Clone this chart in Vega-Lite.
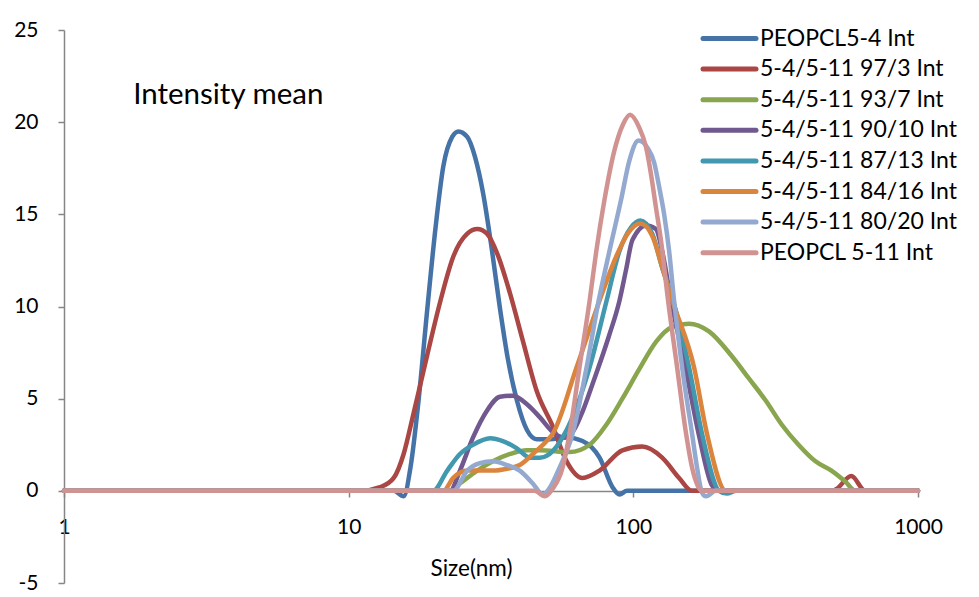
{
  "$schema": "https://vega.github.io/schema/vega-lite/v6.json",
  "width": 854,
  "height": 553,
  "autosize": "none",
  "padding": {"left": 64, "top": 30, "right": 61, "bottom": 14},
  "background": "white",
  "config": {"view": {"stroke": null}, "font": "Lato"},
  "layer": [
    {
      "data": {
        "values": [
          {"series": "PEOPCL5-4 Int", "size": 1, "intensity": 0},
          {"series": "PEOPCL5-4 Int", "size": 10, "intensity": 0},
          {"series": "PEOPCL5-4 Int", "size": 14.4, "intensity": 0},
          {"series": "PEOPCL5-4 Int", "size": 15.6, "intensity": -0.3},
          {"series": "PEOPCL5-4 Int", "size": 16.5, "intensity": 1.3},
          {"series": "PEOPCL5-4 Int", "size": 17.6, "intensity": 4.9},
          {"series": "PEOPCL5-4 Int", "size": 18.9, "intensity": 9.9},
          {"series": "PEOPCL5-4 Int", "size": 20.2, "intensity": 14.3},
          {"series": "PEOPCL5-4 Int", "size": 21.5, "intensity": 17.6},
          {"series": "PEOPCL5-4 Int", "size": 23.1, "intensity": 19.2},
          {"series": "PEOPCL5-4 Int", "size": 24.3, "intensity": 19.5},
          {"series": "PEOPCL5-4 Int", "size": 26.1, "intensity": 19.2},
          {"series": "PEOPCL5-4 Int", "size": 27.8, "intensity": 18.1},
          {"series": "PEOPCL5-4 Int", "size": 29.7, "intensity": 16.1},
          {"series": "PEOPCL5-4 Int", "size": 31.9, "intensity": 13.0},
          {"series": "PEOPCL5-4 Int", "size": 34.0, "intensity": 9.9},
          {"series": "PEOPCL5-4 Int", "size": 36.3, "intensity": 7.1},
          {"series": "PEOPCL5-4 Int", "size": 39.0, "intensity": 4.9},
          {"series": "PEOPCL5-4 Int", "size": 42.3, "intensity": 3.3},
          {"series": "PEOPCL5-4 Int", "size": 45.8, "intensity": 2.8},
          {"series": "PEOPCL5-4 Int", "size": 50.8, "intensity": 2.8},
          {"series": "PEOPCL5-4 Int", "size": 58.3, "intensity": 2.9},
          {"series": "PEOPCL5-4 Int", "size": 66.3, "intensity": 2.7},
          {"series": "PEOPCL5-4 Int", "size": 76.1, "intensity": 1.8},
          {"series": "PEOPCL5-4 Int", "size": 84.5, "intensity": 0.2},
          {"series": "PEOPCL5-4 Int", "size": 89.4, "intensity": -0.2},
          {"series": "PEOPCL5-4 Int", "size": 95, "intensity": 0},
          {"series": "PEOPCL5-4 Int", "size": 1000, "intensity": 0},

          {"series": "5-4/5-11 97/3 Int", "size": 1, "intensity": 0},
          {"series": "5-4/5-11 97/3 Int", "size": 11, "intensity": 0},
          {"series": "5-4/5-11 97/3 Int", "size": 12.9, "intensity": 0.2},
          {"series": "5-4/5-11 97/3 Int", "size": 14.4, "intensity": 0.7},
          {"series": "5-4/5-11 97/3 Int", "size": 15.6, "intensity": 2.0},
          {"series": "5-4/5-11 97/3 Int", "size": 16.9, "intensity": 4.2},
          {"series": "5-4/5-11 97/3 Int", "size": 18.9, "intensity": 7.4},
          {"series": "5-4/5-11 97/3 Int", "size": 21.0, "intensity": 10.3},
          {"series": "5-4/5-11 97/3 Int", "size": 23.3, "intensity": 12.7},
          {"series": "5-4/5-11 97/3 Int", "size": 26.1, "intensity": 13.95},
          {"series": "5-4/5-11 97/3 Int", "size": 28.3, "intensity": 14.2},
          {"series": "5-4/5-11 97/3 Int", "size": 30.6, "intensity": 13.95},
          {"series": "5-4/5-11 97/3 Int", "size": 33.2, "intensity": 12.9},
          {"series": "5-4/5-11 97/3 Int", "size": 36.9, "intensity": 10.7},
          {"series": "5-4/5-11 97/3 Int", "size": 40.9, "intensity": 8.15},
          {"series": "5-4/5-11 97/3 Int", "size": 45.8, "intensity": 5.4},
          {"series": "5-4/5-11 97/3 Int", "size": 52.1, "intensity": 3.5},
          {"series": "5-4/5-11 97/3 Int", "size": 58.3, "intensity": 1.6},
          {"series": "5-4/5-11 97/3 Int", "size": 66.3, "intensity": 0.7},
          {"series": "5-4/5-11 97/3 Int", "size": 76.1, "intensity": 1.1},
          {"series": "5-4/5-11 97/3 Int", "size": 91.5, "intensity": 2.2},
          {"series": "5-4/5-11 97/3 Int", "size": 107.5, "intensity": 2.4},
          {"series": "5-4/5-11 97/3 Int", "size": 126.3, "intensity": 1.8},
          {"series": "5-4/5-11 97/3 Int", "size": 144.8, "intensity": 0.7},
          {"series": "5-4/5-11 97/3 Int", "size": 160.8, "intensity": 0},
          {"series": "5-4/5-11 97/3 Int", "size": 500, "intensity": 0},
          {"series": "5-4/5-11 97/3 Int", "size": 516.6, "intensity": 0.1},
          {"series": "5-4/5-11 97/3 Int", "size": 583, "intensity": 0.8},
          {"series": "5-4/5-11 97/3 Int", "size": 653, "intensity": 0},
          {"series": "5-4/5-11 97/3 Int", "size": 1000, "intensity": 0},

          {"series": "5-4/5-11 93/7 Int", "size": 1, "intensity": 0},
          {"series": "5-4/5-11 93/7 Int", "size": 22.7, "intensity": 0},
          {"series": "5-4/5-11 93/7 Int", "size": 24.6, "intensity": 0.4},
          {"series": "5-4/5-11 93/7 Int", "size": 28.3, "intensity": 1.1},
          {"series": "5-4/5-11 93/7 Int", "size": 32.1, "intensity": 1.6},
          {"series": "5-4/5-11 93/7 Int", "size": 36.9, "intensity": 2.0},
          {"series": "5-4/5-11 93/7 Int", "size": 42.3, "intensity": 2.2},
          {"series": "5-4/5-11 93/7 Int", "size": 46.9, "intensity": 2.2},
          {"series": "5-4/5-11 93/7 Int", "size": 59.7, "intensity": 2.1},
          {"series": "5-4/5-11 93/7 Int", "size": 70.2, "intensity": 2.5},
          {"series": "5-4/5-11 93/7 Int", "size": 80.5, "intensity": 3.6},
          {"series": "5-4/5-11 93/7 Int", "size": 91.5, "intensity": 5.0},
          {"series": "5-4/5-11 93/7 Int", "size": 104.9, "intensity": 6.6},
          {"series": "5-4/5-11 93/7 Int", "size": 120.3, "intensity": 8.1},
          {"series": "5-4/5-11 93/7 Int", "size": 136.9, "intensity": 8.9},
          {"series": "5-4/5-11 93/7 Int", "size": 156.9, "intensity": 9.07},
          {"series": "5-4/5-11 93/7 Int", "size": 184.4, "intensity": 8.65},
          {"series": "5-4/5-11 93/7 Int", "size": 222, "intensity": 7.3},
          {"series": "5-4/5-11 93/7 Int", "size": 254.6, "intensity": 6.1},
          {"series": "5-4/5-11 93/7 Int", "size": 291.7, "intensity": 4.9},
          {"series": "5-4/5-11 93/7 Int", "size": 331.9, "intensity": 3.6},
          {"series": "5-4/5-11 93/7 Int", "size": 380.4, "intensity": 2.5},
          {"series": "5-4/5-11 93/7 Int", "size": 436.3, "intensity": 1.6},
          {"series": "5-4/5-11 93/7 Int", "size": 496.4, "intensity": 1.1},
          {"series": "5-4/5-11 93/7 Int", "size": 555.6, "intensity": 0.5},
          {"series": "5-4/5-11 93/7 Int", "size": 602.4, "intensity": 0},
          {"series": "5-4/5-11 93/7 Int", "size": 1000, "intensity": 0},

          {"series": "5-4/5-11 90/10 Int", "size": 1, "intensity": 0},
          {"series": "5-4/5-11 90/10 Int", "size": 22.7, "intensity": 0},
          {"series": "5-4/5-11 90/10 Int", "size": 24.6, "intensity": 1.1},
          {"series": "5-4/5-11 90/10 Int", "size": 27.35, "intensity": 2.9},
          {"series": "5-4/5-11 90/10 Int", "size": 30.6, "intensity": 4.35},
          {"series": "5-4/5-11 90/10 Int", "size": 34.0, "intensity": 5.1},
          {"series": "5-4/5-11 90/10 Int", "size": 37.75, "intensity": 5.16},
          {"series": "5-4/5-11 90/10 Int", "size": 42.3, "intensity": 4.7},
          {"series": "5-4/5-11 90/10 Int", "size": 46.9, "intensity": 4.0},
          {"series": "5-4/5-11 90/10 Int", "size": 52.1, "intensity": 3.2},
          {"series": "5-4/5-11 90/10 Int", "size": 56.5, "intensity": 2.9},
          {"series": "5-4/5-11 90/10 Int", "size": 61.2, "intensity": 3.2},
          {"series": "5-4/5-11 90/10 Int", "size": 66.3, "intensity": 4.3},
          {"series": "5-4/5-11 90/10 Int", "size": 71.9, "intensity": 5.8},
          {"series": "5-4/5-11 90/10 Int", "size": 82.1, "intensity": 8.4},
          {"series": "5-4/5-11 90/10 Int", "size": 89.35, "intensity": 10.3},
          {"series": "5-4/5-11 90/10 Int", "size": 94.3, "intensity": 12.0},
          {"series": "5-4/5-11 90/10 Int", "size": 99.2, "intensity": 13.6},
          {"series": "5-4/5-11 90/10 Int", "size": 111.1, "intensity": 14.4},
          {"series": "5-4/5-11 90/10 Int", "size": 120, "intensity": 14.2},
          {"series": "5-4/5-11 90/10 Int", "size": 126.3, "intensity": 13.0},
          {"series": "5-4/5-11 90/10 Int", "size": 135.8, "intensity": 10.3},
          {"series": "5-4/5-11 90/10 Int", "size": 153.2, "intensity": 6.5},
          {"series": "5-4/5-11 90/10 Int", "size": 170.1, "intensity": 3.0},
          {"series": "5-4/5-11 90/10 Int", "size": 188.8, "intensity": 0.3},
          {"series": "5-4/5-11 90/10 Int", "size": 199.9, "intensity": 0},
          {"series": "5-4/5-11 90/10 Int", "size": 1000, "intensity": 0},

          {"series": "5-4/5-11 87/13 Int", "size": 1, "intensity": 0},
          {"series": "5-4/5-11 87/13 Int", "size": 19.8, "intensity": 0},
          {"series": "5-4/5-11 87/13 Int", "size": 22.2, "intensity": 1.1},
          {"series": "5-4/5-11 87/13 Int", "size": 24.6, "intensity": 2.0},
          {"series": "5-4/5-11 87/13 Int", "size": 27.35, "intensity": 2.5},
          {"series": "5-4/5-11 87/13 Int", "size": 31.4, "intensity": 2.85},
          {"series": "5-4/5-11 87/13 Int", "size": 34.8, "intensity": 2.7},
          {"series": "5-4/5-11 87/13 Int", "size": 39.0, "intensity": 2.3},
          {"series": "5-4/5-11 87/13 Int", "size": 43.3, "intensity": 1.8},
          {"series": "5-4/5-11 87/13 Int", "size": 46.9, "intensity": 1.8},
          {"series": "5-4/5-11 87/13 Int", "size": 50.8, "intensity": 2.0},
          {"series": "5-4/5-11 87/13 Int", "size": 57.4, "intensity": 3.1},
          {"series": "5-4/5-11 87/13 Int", "size": 70.2, "intensity": 6.7},
          {"series": "5-4/5-11 87/13 Int", "size": 80.5, "intensity": 10.3},
          {"series": "5-4/5-11 87/13 Int", "size": 89.35, "intensity": 13.0},
          {"series": "5-4/5-11 87/13 Int", "size": 98.2, "intensity": 14.3},
          {"series": "5-4/5-11 87/13 Int", "size": 105.8, "intensity": 14.67},
          {"series": "5-4/5-11 87/13 Int", "size": 116.5, "intensity": 13.95},
          {"series": "5-4/5-11 87/13 Int", "size": 126.3, "intensity": 12.1},
          {"series": "5-4/5-11 87/13 Int", "size": 138, "intensity": 10.3},
          {"series": "5-4/5-11 87/13 Int", "size": 156.9, "intensity": 6.7},
          {"series": "5-4/5-11 87/13 Int", "size": 174.3, "intensity": 3.1},
          {"series": "5-4/5-11 87/13 Int", "size": 199.9, "intensity": 0},
          {"series": "5-4/5-11 87/13 Int", "size": 213, "intensity": -0.15},
          {"series": "5-4/5-11 87/13 Int", "size": 230, "intensity": 0},
          {"series": "5-4/5-11 87/13 Int", "size": 1000, "intensity": 0},

          {"series": "5-4/5-11 84/16 Int", "size": 1, "intensity": 0},
          {"series": "5-4/5-11 84/16 Int", "size": 21.5, "intensity": 0},
          {"series": "5-4/5-11 84/16 Int", "size": 23.3, "intensity": 0.7},
          {"series": "5-4/5-11 84/16 Int", "size": 26.1, "intensity": 1.1},
          {"series": "5-4/5-11 84/16 Int", "size": 28.9, "intensity": 1.1},
          {"series": "5-4/5-11 84/16 Int", "size": 32.1, "intensity": 1.1},
          {"series": "5-4/5-11 84/16 Int", "size": 36.0, "intensity": 1.2},
          {"series": "5-4/5-11 84/16 Int", "size": 39.9, "intensity": 1.4},
          {"series": "5-4/5-11 84/16 Int", "size": 44.35, "intensity": 2.0},
          {"series": "5-4/5-11 84/16 Int", "size": 49.6, "intensity": 2.7},
          {"series": "5-4/5-11 84/16 Int", "size": 52.1, "intensity": 3.1},
          {"series": "5-4/5-11 84/16 Int", "size": 63.2, "intensity": 6.7},
          {"series": "5-4/5-11 84/16 Int", "size": 76, "intensity": 10.3},
          {"series": "5-4/5-11 84/16 Int", "size": 87.0, "intensity": 12.7},
          {"series": "5-4/5-11 84/16 Int", "size": 95.5, "intensity": 13.95},
          {"series": "5-4/5-11 84/16 Int", "size": 105.8, "intensity": 14.5},
          {"series": "5-4/5-11 84/16 Int", "size": 116.8, "intensity": 13.8},
          {"series": "5-4/5-11 84/16 Int", "size": 126.5, "intensity": 12.1},
          {"series": "5-4/5-11 84/16 Int", "size": 137.2, "intensity": 10.3},
          {"series": "5-4/5-11 84/16 Int", "size": 163.4, "intensity": 6.7},
          {"series": "5-4/5-11 84/16 Int", "size": 181.4, "intensity": 3.1},
          {"series": "5-4/5-11 84/16 Int", "size": 211.5, "intensity": 0},
          {"series": "5-4/5-11 84/16 Int", "size": 1000, "intensity": 0},

          {"series": "5-4/5-11 80/20 Int", "size": 1, "intensity": 0},
          {"series": "5-4/5-11 80/20 Int", "size": 23.3, "intensity": 0},
          {"series": "5-4/5-11 80/20 Int", "size": 26.1, "intensity": 1.1},
          {"series": "5-4/5-11 80/20 Int", "size": 28.9, "intensity": 1.5},
          {"series": "5-4/5-11 80/20 Int", "size": 32.1, "intensity": 1.6},
          {"series": "5-4/5-11 80/20 Int", "size": 36.0, "intensity": 1.4},
          {"series": "5-4/5-11 80/20 Int", "size": 39.9, "intensity": 1.1},
          {"series": "5-4/5-11 80/20 Int", "size": 44.35, "intensity": 0.4},
          {"series": "5-4/5-11 80/20 Int", "size": 48.1, "intensity": -0.2},
          {"series": "5-4/5-11 80/20 Int", "size": 51, "intensity": 0.2},
          {"series": "5-4/5-11 80/20 Int", "size": 55.1, "intensity": 1.27},
          {"series": "5-4/5-11 80/20 Int", "size": 61.2, "intensity": 3.1},
          {"series": "5-4/5-11 80/20 Int", "size": 68.5, "intensity": 6.7},
          {"series": "5-4/5-11 80/20 Int", "size": 75.5, "intensity": 10.3},
          {"series": "5-4/5-11 80/20 Int", "size": 82.4, "intensity": 13.0},
          {"series": "5-4/5-11 80/20 Int", "size": 90.6, "intensity": 15.8},
          {"series": "5-4/5-11 80/20 Int", "size": 96.8, "intensity": 17.9},
          {"series": "5-4/5-11 80/20 Int", "size": 104.3, "intensity": 19.0},
          {"series": "5-4/5-11 80/20 Int", "size": 112.2, "intensity": 18.6},
          {"series": "5-4/5-11 80/20 Int", "size": 118.4, "intensity": 17.8},
          {"series": "5-4/5-11 80/20 Int", "size": 123.2, "intensity": 16.5},
          {"series": "5-4/5-11 80/20 Int", "size": 128.3, "intensity": 15.0},
          {"series": "5-4/5-11 80/20 Int", "size": 133.6, "intensity": 13.0},
          {"series": "5-4/5-11 80/20 Int", "size": 139.1, "intensity": 10.3},
          {"series": "5-4/5-11 80/20 Int", "size": 148.4, "intensity": 6.7},
          {"series": "5-4/5-11 80/20 Int", "size": 160.8, "intensity": 3.1},
          {"series": "5-4/5-11 80/20 Int", "size": 167.4, "intensity": 1.27},
          {"series": "5-4/5-11 80/20 Int", "size": 174.3, "intensity": -0.1},
          {"series": "5-4/5-11 80/20 Int", "size": 180, "intensity": -0.3},
          {"series": "5-4/5-11 80/20 Int", "size": 195, "intensity": 0},
          {"series": "5-4/5-11 80/20 Int", "size": 1000, "intensity": 0},

          {"series": "PEOPCL 5-11 Int", "size": 1, "intensity": 0},
          {"series": "PEOPCL 5-11 Int", "size": 45, "intensity": 0},
          {"series": "PEOPCL 5-11 Int", "size": 48.85, "intensity": -0.3},
          {"series": "PEOPCL 5-11 Int", "size": 52, "intensity": 0.1},
          {"series": "PEOPCL 5-11 Int", "size": 56.45, "intensity": 1.27},
          {"series": "PEOPCL 5-11 Int", "size": 59.7, "intensity": 3.1},
          {"series": "PEOPCL 5-11 Int", "size": 64.7, "intensity": 6.7},
          {"series": "PEOPCL 5-11 Int", "size": 70.2, "intensity": 10.3},
          {"series": "PEOPCL 5-11 Int", "size": 74.1, "intensity": 13.0},
          {"series": "PEOPCL 5-11 Int", "size": 79.2, "intensity": 15.8},
          {"series": "PEOPCL 5-11 Int", "size": 85.9, "intensity": 18.5},
          {"series": "PEOPCL 5-11 Int", "size": 91.8, "intensity": 19.85},
          {"series": "PEOPCL 5-11 Int", "size": 97.4, "intensity": 20.4},
          {"series": "PEOPCL 5-11 Int", "size": 104.9, "intensity": 19.7},
          {"series": "PEOPCL 5-11 Int", "size": 110.8, "intensity": 18.65},
          {"series": "PEOPCL 5-11 Int", "size": 115.3, "intensity": 17.2},
          {"series": "PEOPCL 5-11 Int", "size": 120, "intensity": 15.4},
          {"series": "PEOPCL 5-11 Int", "size": 125, "intensity": 13.6},
          {"series": "PEOPCL 5-11 Int", "size": 132.5, "intensity": 10.3},
          {"series": "PEOPCL 5-11 Int", "size": 142.5, "intensity": 6.7},
          {"series": "PEOPCL 5-11 Int", "size": 153.2, "intensity": 3.1},
          {"series": "PEOPCL 5-11 Int", "size": 160.8, "intensity": 1.27},
          {"series": "PEOPCL 5-11 Int", "size": 174.3, "intensity": 0},
          {"series": "PEOPCL 5-11 Int", "size": 1000, "intensity": 0}
        ]
      },
      "mark": {
        "type": "line",
        "interpolate": "monotone",
        "strokeWidth": 4.5,
        "strokeCap": "round",
        "strokeJoin": "round"
      },
      "encoding": {
        "x": {
          "field": "size",
          "type": "quantitative",
          "scale": {"type": "log", "domain": [1, 1000], "nice": false},
          "axis": {
            "title": "Size(nm)",
            "values": [1, 10, 100, 1000],
            "labelExpr": "datum.value + ''",
            "offset": -92,
            "grid": false,
            "tickSize": 6,
            "tickWidth": 1.5,
            "domainWidth": 1.5,
            "domainColor": "#868686",
            "tickColor": "#868686",
            "labelFlush": false,
            "labelBaseline": "middle",
            "labelPadding": 30,
            "labelFontSize": 21,
            "labelColor": "black",
            "titleFontSize": 22.5,
            "titleFontWeight": "normal",
            "titleColor": "black",
            "titleBaseline": "middle",
            "titleAlign": "center",
            "titleX": 407,
            "titleY": 77
          }
        },
        "y": {
          "field": "intensity",
          "type": "quantitative",
          "scale": {"domain": [-5, 25], "nice": false, "zero": false},
          "axis": {
            "title": null,
            "values": [-5, 0, 5, 10, 15, 20, 25],
            "labelExpr": "datum.value + ''",
            "grid": false,
            "tickSize": 6,
            "tickWidth": 1.5,
            "domainWidth": 1.5,
            "domainColor": "#868686",
            "tickColor": "#868686",
            "labelPadding": 20,
            "labelFontSize": 21,
            "labelColor": "black"
          }
        },
        "color": {
          "field": "series",
          "type": "nominal",
          "scale": {
            "domain": ["PEOPCL5-4 Int", "5-4/5-11 97/3 Int", "5-4/5-11 93/7 Int", "5-4/5-11 90/10 Int", "5-4/5-11 87/13 Int", "5-4/5-11 84/16 Int", "5-4/5-11 80/20 Int", "PEOPCL 5-11 Int"],
            "range": ["#4572A7", "#AA4643", "#89A54E", "#71588F", "#4198AF", "#DB843D", "#93A9CF", "#D19392"]
          },
          "legend": {
            "title": null,
            "orient": "none",
            "legendX": 654,
            "legendY": -3,
            "padding": 0,
            "symbolType": "M-5.3,0H5.3",
            "symbolSize": 100,
            "symbolStrokeWidth": 5,
            "labelOffset": 19,
            "labelFontSize": 23,
            "labelColor": "black",
            "labelLimit": 300,
            "rowPadding": 6.6,
            "encode": {"symbols": {"update": {"strokeCap": {"value": "round"}}}}
          }
        }
      }
    },
    {
      "data": {"values": [{"label": "Intensity mean", "size": 1.75, "intensity": 21}]},
      "mark": {"type": "text", "align": "left", "baseline": "alphabetic", "fontSize": 29.5, "color": "black"},
      "encoding": {
        "x": {"field": "size", "type": "quantitative"},
        "y": {"field": "intensity", "type": "quantitative"},
        "text": {"field": "label"}
      }
    }
  ]
}
